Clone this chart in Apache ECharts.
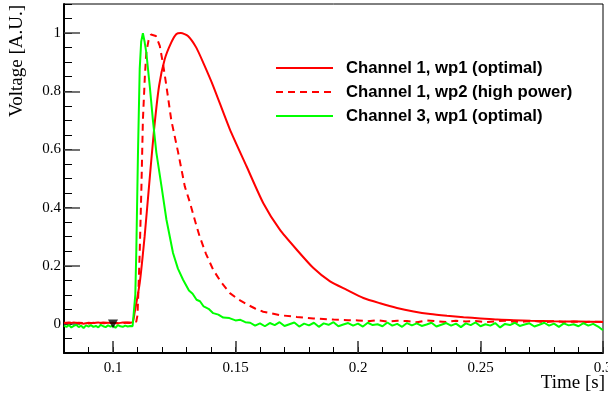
<!DOCTYPE html>
<html>
<head>
<meta charset="utf-8">
<script src="https://cdn.jsdelivr.net/npm/echarts@6/dist/echarts.min.js"></script>
<style>
  html, body { margin: 0; padding: 0; background: #fff; }
  #main { width: 608px; height: 396px; }
</style>
</head>
<body>
<div id="main"></div>
<script>
// tick labels
const xMajorTicks = [0.1, 0.15, 0.2, 0.25, 0.3];
const yMajorTicks = [0, 0.2, 0.4, 0.6, 0.8, 1];

const seriesNames = ['Channel 1, wp1 (optimal)', 'Channel 1, wp2 (high power)', 'Channel 3, wp1 (optimal)'];

// pre-trigger baselines, sampled on a regular time grid (start, step, values)
const redBaseStart = 0.080, redBaseStep = 0.002;
const ch1OptBase = [0.004, 0.002, 0.005, 0.003, 0.001, 0.004, 0.003, 0.005, 0.002, 0.004, 0.003, 0.002, 0.005, 0.004, 0.006];
const ch1HighBase = [0.003, 0.005, 0.002, 0.004, 0.003, 0.001, 0.004, 0.002, 0.005, 0.003, 0.004, 0.002, 0.003, 0.005, 0.004];
const greenBaseStart = 0.080, greenBaseStep = 0.001;
const ch3OptBase = [-0.006, -0.010, -0.004, -0.012, -0.007, -0.003, -0.011, -0.006, -0.014, -0.005, -0.009, -0.004, -0.010, -0.007, -0.012,
  -0.003, -0.008, -0.011, -0.005, -0.009, -0.006, -0.013, -0.004, -0.008, -0.010, -0.006, -0.009, -0.007, -0.008];

// pulses
const ch1OptTime = [0.1088, 0.1109, 0.1129, 0.1147, 0.1167, 0.1188, 0.1211, 0.1238, 0.1259, 0.1277, 0.1306, 0.1340, 0.1370, 0.1409,
  0.1477, 0.1545, 0.1613, 0.1681, 0.1750, 0.1818, 0.1886, 0.1954, 0.2022, 0.2090, 0.2159, 0.2227, 0.2295, 0.2363, 0.2431, 0.2500,
  0.2568, 0.2636, 0.2704, 0.2800, 0.2900, 0.3000];
const ch1OptVolt = [0.037, 0.14, 0.30, 0.473, 0.663, 0.818, 0.91, 0.968, 0.997, 1.0, 0.99, 0.95, 0.895, 0.818,
  0.669, 0.542, 0.416, 0.324, 0.255, 0.192, 0.146, 0.117, 0.089, 0.071, 0.055, 0.043, 0.034, 0.028, 0.023, 0.019,
  0.015, 0.013, 0.011, 0.009, 0.008, 0.007];

const ch1HighTime = [0.1095, 0.1100, 0.1104, 0.1109, 0.1116, 0.1122, 0.1130, 0.1136, 0.1145, 0.1155, 0.1163, 0.1175, 0.1191, 0.1205,
  0.1218, 0.1238, 0.1266, 0.1293, 0.1313, 0.1341, 0.1354, 0.1380, 0.1409, 0.1440, 0.1477, 0.1510, 0.1545, 0.1580, 0.1613, 0.1681,
  0.1750, 0.1818, 0.1900, 0.1960];
const ch1HighVolt = [0.008, 0.03, 0.12, 0.245, 0.47, 0.70, 0.85, 0.933, 0.975, 0.995, 1.0, 0.99, 0.956, 0.89,
  0.818, 0.70, 0.589, 0.473, 0.42, 0.336, 0.30, 0.24, 0.186, 0.145, 0.106, 0.085, 0.068, 0.053, 0.042, 0.030,
  0.024, 0.019, 0.015, 0.013];

const ch3OptTime = [0.1088, 0.1091, 0.1095, 0.1102, 0.1109, 0.1115, 0.1122, 0.1129, 0.1136, 0.1150, 0.1163, 0.1177, 0.1198, 0.1218,
  0.1245, 0.1265, 0.1286, 0.1310, 0.1325, 0.1341, 0.1355, 0.1370, 0.1390, 0.1409, 0.1430, 0.1450, 0.1475, 0.1500, 0.1520, 0.1540];
const ch3OptVolt = [-0.006, 0.10, 0.245, 0.59, 0.876, 0.97, 1.0, 0.97, 0.933, 0.818, 0.70, 0.589, 0.473, 0.359,
  0.244, 0.19, 0.152, 0.115, 0.104, 0.083, 0.078, 0.060, 0.052, 0.037, 0.032, 0.022, 0.020, 0.012, 0.014, 0.006];

// post-pulse tails, regular grid
const ch1HighTailStart = 0.200, ch1HighTailStep = 0.004;
const ch1HighTail = [0.012, 0.009, 0.013, 0.008, 0.011, 0.010, 0.006, 0.012, 0.009, 0.007, 0.011, 0.008, 0.010, 0.006,
  0.009, 0.011, 0.007, 0.008, 0.010, 0.006, 0.009, 0.007, 0.008, 0.006, 0.008, 0.007];
const ch3TailStart = 0.156, ch3TailStep = 0.002;
const ch3OptTail = [0.004, -0.006, 0.002, -0.008, 0.003, -0.004, 0.006, -0.007, -0.001, 0.005, -0.009, 0.001, -0.005, 0.004,
  -0.010, 0.002, -0.003, 0.006, -0.008, -0.002, 0.003, -0.006, 0.001, -0.009, 0.004, -0.004, -0.001, -0.008, 0.005, -0.006,
  0.000, -0.010, 0.003, -0.005, 0.002, -0.007, -0.002, 0.004, -0.009, -0.003, 0.003, -0.006, 0.001, -0.011, 0.002, -0.004,
  0.005, -0.008, -0.001, -0.006, 0.003, -0.012, 0.000, -0.004, 0.004, -0.007, -0.002, 0.002, -0.009, -0.003, 0.004, -0.006,
  0.001, -0.010, 0.002, -0.005, -0.001, -0.008, 0.003, -0.006, 0.000, -0.009, -0.022];

// trigger marker
const triggerTime = [0.1];
const triggerVolt = [0.0];

function onGrid(start, step, vals) {
  return vals.map(function (v, i) { return [+(start + i * step).toFixed(4), v]; });
}
function pairs(ts, vs) {
  return ts.map(function (t, i) { return [t, vs[i]]; });
}

const ch1OptData = onGrid(redBaseStart, redBaseStep, ch1OptBase).concat(pairs(ch1OptTime, ch1OptVolt));
const ch1HighData = onGrid(redBaseStart, redBaseStep, ch1HighBase)
  .concat(pairs(ch1HighTime, ch1HighVolt), onGrid(ch1HighTailStart, ch1HighTailStep, ch1HighTail));
const ch3OptData = onGrid(greenBaseStart, greenBaseStep, ch3OptBase)
  .concat(pairs(ch3OptTime, ch3OptVolt), onGrid(ch3TailStart, ch3TailStep, ch3OptTail));

const serif = '"Liberation Serif", "Times New Roman", serif';
const chart = echarts.init(document.getElementById('main'), null, { renderer: 'canvas' });

const option = {
  animation: false,
  backgroundColor: '#fff',
  grid: {
    left: 64, right: 5, top: 4, bottom: 43,
    show: true, borderColor: '#000', borderWidth: 1,
    outerBoundsMode: 'none'
  },
  legend: {
    data: seriesNames,
    orient: 'vertical',
    left: 275, top: 58, padding: 0,
    itemWidth: 57, itemHeight: 12, itemGap: 4,
    itemStyle: { opacity: 0 },
    textStyle: {
      fontFamily: '"Liberation Sans", Arial, sans-serif',
      fontWeight: 'bold', fontSize: 16.7, color: '#000',
      lineHeight: 20, padding: [0, 0, 0, 8]
    }
  },
  xAxis: [{
    type: 'value', position: 'bottom', min: 0.08, max: 0.3, interval: 0.01,
    axisLine: { show: true, onZero: false, lineStyle: { color: '#000', width: 2 } },
    axisTick: { inside: true, length: 6, lineStyle: { color: '#000', width: 1 } },
    axisLabel: { show: false },
    splitLine: { show: false }
  }, {
    type: 'value', position: 'bottom', min: 0.08, max: 0.3,
    axisLine: { show: false, onZero: false },
    axisTick: { inside: true, length: 12, customValues: xMajorTicks, lineStyle: { color: '#333', width: 1.5 } },
    axisLabel: { customValues: xMajorTicks, margin: 8, fontFamily: serif, fontSize: 15, color: '#000',
      formatter: function (v) { return String(v); } },
    splitLine: { show: false }
  }],
  yAxis: [{
    type: 'value', position: 'left', min: -0.1, max: 1.1, interval: 0.05,
    axisLine: { show: true, onZero: false, lineStyle: { color: '#000', width: 2 } },
    axisTick: { inside: true, length: 8, lineStyle: { color: '#000', width: 1 } },
    axisLabel: { show: false },
    splitLine: { show: false }
  }, {
    type: 'value', position: 'left', min: -0.1, max: 1.1,
    axisLine: { show: false, onZero: false },
    axisTick: { inside: true, length: 16, customValues: yMajorTicks, lineStyle: { color: '#444', width: 1.5 } },
    axisLabel: { customValues: yMajorTicks, margin: 3, fontFamily: serif, fontSize: 15, color: '#000',
      formatter: function (v) { return String(v); } },
    splitLine: { show: false }
  }],
  graphic: [{
    type: 'text', x: 17, y: 5, rotation: Math.PI / 2,
    style: { text: 'Voltage [A.U.]', font: '19px ' + serif, fill: '#000', textAlign: 'right', textVerticalAlign: 'middle' }
  }, {
    type: 'text', x: 605, y: 383,
    style: { text: 'Time [s]', font: '19px ' + serif, fill: '#000', textAlign: 'right', textVerticalAlign: 'middle' }
  }],
  series: [{
    name: seriesNames[0], type: 'line', data: ch1OptData, symbol: 'none', smooth: 0.2,
    lineStyle: { color: '#ff0000', width: 2 }, itemStyle: { color: '#ff0000' }
  }, {
    name: seriesNames[1], type: 'line', data: ch1HighData, symbol: 'none', smooth: false,
    lineStyle: { color: '#ff0000', width: 2, type: [7, 5] }, itemStyle: { color: '#ff0000' }
  }, {
    name: seriesNames[2], type: 'line', data: ch3OptData, symbol: 'none', smooth: false,
    lineStyle: { color: '#00ff00', width: 2 }, itemStyle: { color: '#00ff00' }
  }, {
    name: 'trigger', type: 'scatter', data: pairs(triggerTime, triggerVolt),
    symbol: 'triangle', symbolRotate: 180, symbolSize: [10, 9], itemStyle: { color: '#000' }, z: 5
  }]
};
chart.setOption(option);
</script>
</body>
</html>
